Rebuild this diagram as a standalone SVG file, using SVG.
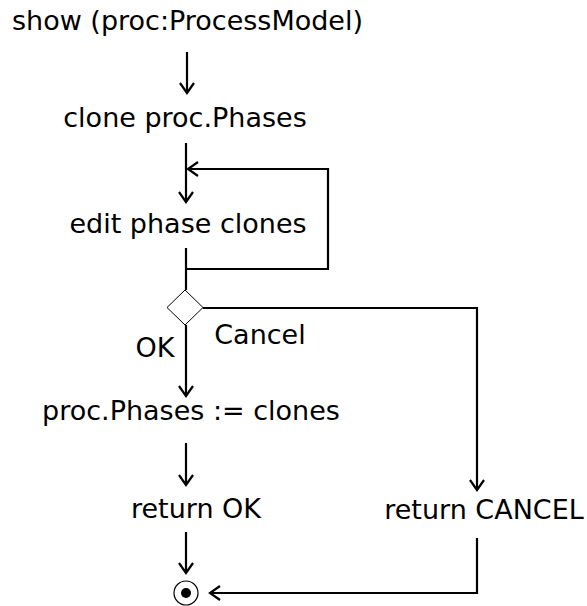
<svg xmlns="http://www.w3.org/2000/svg" width="587" height="606" viewBox="0 0 587 606">
  <style>
    text { font-family: "DejaVu Sans", Verdana, sans-serif; font-size: 27px; fill: #000; text-anchor: middle; }
    .flow { fill: none; stroke: #000; stroke-width: 2.2; marker-end: url(#open); }
    .plain { fill: none; stroke: #000; stroke-width: 2.2; }
  </style>
  <defs>
    <marker id="open" markerUnits="userSpaceOnUse" markerWidth="14" markerHeight="18" viewBox="-12 -9 14 18" refX="0" refY="0" orient="auto">
      <path d="M -10 -7 L 0 0 L -10 7" fill="none" stroke="#000" stroke-width="2.2"/>
    </marker>
  </defs>

  <g id="start"><text x="187.5" y="30">show (proc:ProcessModel)</text></g>
  <g id="clone"><text x="185" y="127">clone proc.Phases</text></g>
  <g id="edit"><text x="188" y="233">edit phase clones</text></g>
  <g id="decision"><polygon points="185,290 203,307.5 185,325 167,307.5" fill="#fff" stroke="#000" stroke-width="1"/></g>
  <g id="assign"><text x="191" y="420">proc.Phases := clones</text></g>
  <g id="return-ok"><text x="196" y="518">return OK</text></g>
  <g id="return-cancel"><text x="484" y="519">return CANCEL</text></g>
  <g id="end">
    <circle cx="186" cy="593" r="12" fill="#fff" stroke="#000" stroke-width="1.2"/>
    <circle cx="186" cy="593" r="5" fill="#000"/>
  </g>

  <g id="connectors">
    <path class="flow" d="M 187 52 V 93"/>
    <path class="flow" d="M 186 143 V 202"/>
    <path class="plain" d="M 186 248 V 290"/>
    <path class="flow" d="M 186 269 H 328 V 169 H 188"/>
    <path class="flow" d="M 186 325 V 396"/>
    <path class="flow" d="M 203 308 H 477 V 490"/>
    <path class="flow" d="M 186 443 V 485"/>
    <path class="flow" d="M 186 532 V 573"/>
    <path class="flow" d="M 477 538 V 593 H 210"/>
    <text x="155" y="357">OK</text>
    <text x="260" y="344">Cancel</text>
  </g>
</svg>
